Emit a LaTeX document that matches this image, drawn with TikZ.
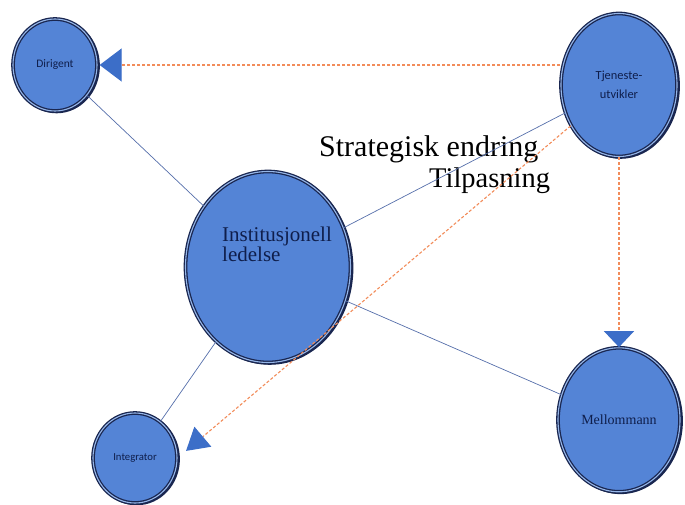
\documentclass[tikz,border=0pt]{standalone}
\usepackage{fontspec}
\setmainfont{Liberation Serif}
\newfontfamily\calibrifont{Carlito}
\usepackage{tikz}
\usetikzlibrary{ arrows.meta, shapes.geometric, positioning }
\definecolor{ballblue}{RGB}{84,132,214}
\definecolor{rimdark}{RGB}{25,38,80}
\definecolor{rimlight}{RGB}{150,182,232}
\definecolor{labelnavy}{RGB}{15,30,75}
\definecolor{linkblue}{RGB}{85,110,170}
\definecolor{dashorange}{RGB}{242,140,90}
\definecolor{tipblue}{RGB}{60,110,200}
\tikzset{
every node/.style={inner sep=1pt},
ball/.style={ellipse, fill=ballblue, draw=rimdark, line width=1.3pt, double=rimlight, double distance=1.1pt, inner sep=0pt, text=labelnavy, align=center,
  preaction={draw=rimdark, line width=2.6pt, transform canvas={xshift=1.6pt, yshift=-1pt}}}, % bevelled blue circles
link/.style={linkblue, line width=0.7pt}, % thin solid connectors
cue/.style={dashorange, line width=1.1pt, dash pattern=on 3pt off 2pt}, % dotted orange arrows
}

\begin{document}
\begin{tikzpicture}[x=1pt, y=-1pt, node distance=190pt]
  \useasboundingbox (0,0) rectangle (685,505);
  \node[ball, minimum width=84pt, minimum height=92pt, font=\calibrifont\fontsize{11.5}{13}\selectfont] (dir) at (55,65) {Dirigent};
  \node[ball, minimum width=116pt, minimum height=143pt, font=\calibrifont\fontsize{12.4}{19}\selectfont] (tu) at (619,85) {Tjeneste-\\utvikler};
  \node[ball, minimum width=122pt, minimum height=144pt, font=\fontsize{14}{16}\selectfont, below=of tu] (mm) {Mellommann};
  \node[ball, minimum width=165pt, minimum height=191pt] (il) at (268,267) {};
  \node[ball, minimum width=84pt, minimum height=90pt, font=\calibrifont\fontsize{10.7}{12}\selectfont] (in) at (135,458) {Integrator};

  % text of the big circle sits up and to the left
  \node[anchor=north west, align=left, text=labelnavy, font=\fontsize{21}{19.5}\selectfont] (iltext) at (221,226) {Institusjonell\\ledelse};

  \node[anchor=base west, font=\fontsize{30}{32}\selectfont] (se) at (318,157) {Strategisk endring};
  \node[anchor=base west, font=\fontsize{28.5}{30}\selectfont] (tp) at (428,188) {Tilpasning};

  \path[link]
  (dir) edge (il)
  (il) edge (tu)
  (il) edge (mm)
  (il) edge (in);

  \draw[cue, shorten >=2pt, -{Triangle[width=33pt, length=22pt, color=tipblue]}] (dir.east -| tu.west) -- (dir.east);
  \draw[cue, -{Triangle[width=30pt, length=16pt, color=tipblue]}] (tu.south) -- (mm.north);
  \draw[cue, shorten >=11pt, -{Triangle[width=26pt, length=22pt, color=tipblue]}] (tu) -- (in.east);
\end{tikzpicture}
\end{document}
